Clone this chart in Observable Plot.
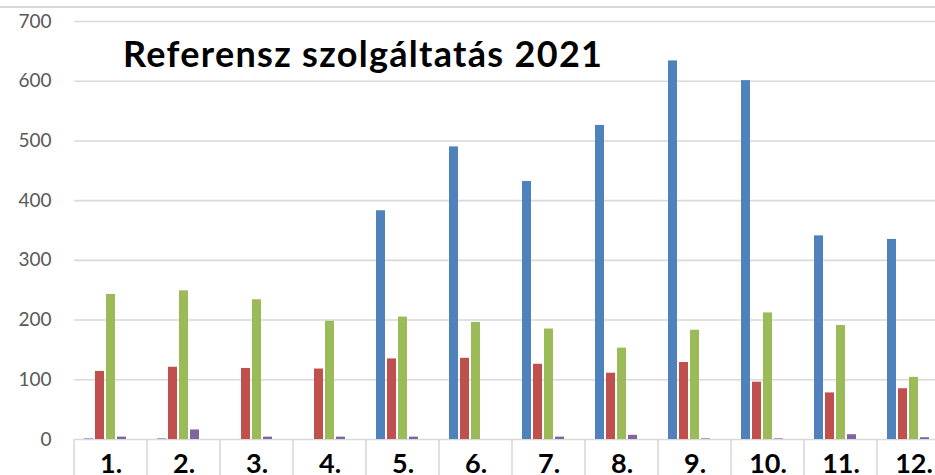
<!DOCTYPE html>
<html><head><meta charset="utf-8">
<script src="https://cdn.jsdelivr.net/npm/d3@7"></script>
<script src="https://cdn.jsdelivr.net/npm/@observablehq/plot@0.6"></script>
<style>
body{margin:0;background:#fff;}
#wrap{position:relative;width:935px;height:475px;overflow:hidden;}
#topline{position:absolute;left:0;top:6px;width:935px;height:2px;background:#d9d9d9;}
#title{position:absolute;left:123px;top:35px;font:bold 36px Lato, sans-serif;letter-spacing:1.3px;line-height:1;color:#000;white-space:nowrap;}
</style></head><body>
<div id="wrap"><div id="chart"></div><div id="topline"></div><div id="title">Referensz szolgáltatás 2021</div></div>
<script>
const months = ["1.","2.","3.","4.","5.","6.","7.","8.","9.","10.","11.","12."];
const seriesKeys = ["s1","s2","s3","s4"];
const seriesColors = ["#4f81bd","#c0504d","#9bbb59","#8064a2"];
const blueValues   = [1, 1, 0, 0, 383, 490, 432, 526, 634, 601, 341, 335];
const redValues    = [114, 121, 119, 118, 135, 136, 126, 111, 129, 96, 78, 85];
const greenValues  = [243, 249, 234, 198, 205, 196, 185, 153, 183, 212, 191, 104];
const purpleValues = [4, 16, 4, 4, 4, 0, 4, 7, 1, 1, 8, 3];
const yTicks = [0, 100, 200, 300, 400, 500, 600, 700];

const seriesValues = [blueValues, redValues, greenValues, purpleValues];
const rows = months.flatMap((m, i) => seriesValues.map((arr, j) => ({month: m, series: seriesKeys[j], value: arr[i]})));

const plot = Plot.plot({
  width: 935, height: 475,
  marginLeft: 70, marginRight: 0, marginTop: 21, marginBottom: 36,
  style: {fontFamily: "Lato, sans-serif", fontSize: "19px", color: "#595959", background: "transparent", overflow: "hidden"},
  fx: {domain: months, range: [70, 953], padding: 0, label: null, tickSize: 0, tickPadding: 14, axis: "bottom"},
  x: {domain: seriesKeys, paddingInner: 0.22, paddingOuter: 1.31, align: 0.33, axis: null},
  y: {domain: [0, 700], ticks: yTicks, tickSize: 0, tickPadding: 23, label: null, tickFormat: d => String(d)},
  color: {domain: seriesKeys, range: seriesColors},
  marks: [
    Plot.ruleY(yTicks, {stroke: "#d9d9d9", strokeWidth: 1.6}),
    Plot.barY(rows, {fx: "month", x: "series", y: "value", fill: "series"})
  ]
});
document.getElementById("chart").appendChild(plot);

const svg = d3.select(plot);
svg.selectAll('[aria-label^="fx-axis"] text')
  .style("font", "bold 27px Lato, sans-serif").style("fill", "#000");

const fx = plot.scale("fx");
const ys = plot.scale("y");
const y0 = ys.apply(0);
const edges = months.map(m => fx.apply(m)).concat([fx.apply(months[months.length - 1]) + fx.bandwidth]);
svg.append("g").selectAll("line").data(edges).join("line")
  .attr("x1", d => d).attr("x2", d => d)
  .attr("y1", y0).attr("y2", 475)
  .attr("stroke", "#d9d9d9").attr("stroke-width", 1.6);
</script>
</body></html>
